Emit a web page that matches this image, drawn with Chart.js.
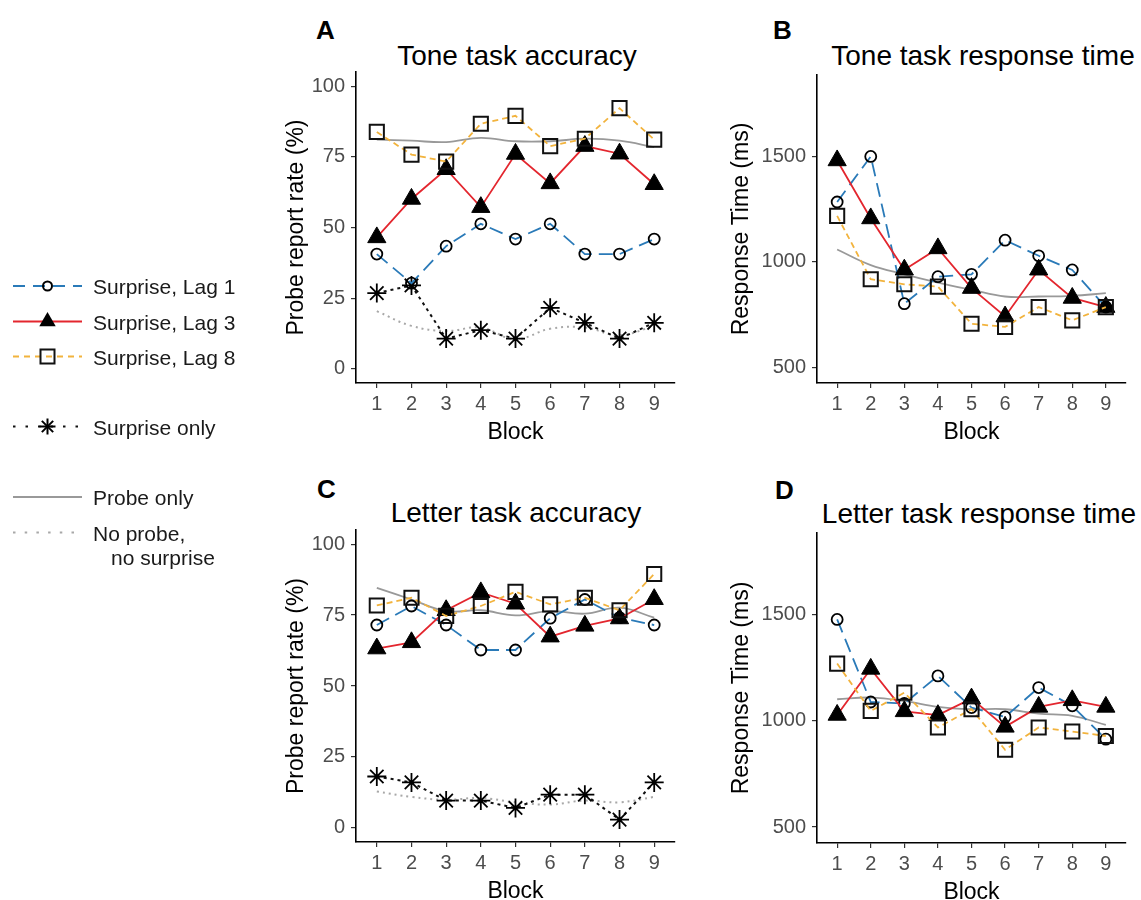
<!DOCTYPE html>
<html>
<head>
<meta charset="utf-8">
<script src="https://cdn.jsdelivr.net/npm/chart.js@4.4.1/dist/chart.umd.min.js"></script>
<style>
    html, body { margin: 0; padding: 0; background: #fff; overflow: hidden; }
    body { width: 1141px; height: 900px; position: relative; font-family: 'Liberation Sans', Arial, sans-serif; }
    canvas { position: absolute; }
    .txt { position: absolute; line-height: 1; white-space: nowrap; color: #000; }
    .letter { font-size: 26px; font-weight: bold; }
    .title { font-size: 28px; transform: translateX(-50%); }
    .leg { font-size: 21px; color: #1a1a1a; }
</style>
</head>
<body>

<div class="txt letter" style="left:316px;top:17px;">A</div>
<div class="txt letter" style="left:773px;top:17px;">B</div>
<div class="txt letter" style="left:317px;top:476px;">C</div>
<div class="txt letter" style="left:775px;top:477px;">D</div>

<div class="txt title" style="left:517px;top:42px;">Tone task accuracy</div>
<div class="txt title" style="left:983px;top:42px;">Tone task response time</div>
<div class="txt title" style="left:516px;top:499px;">Letter task accuracy</div>
<div class="txt title" style="left:979px;top:500px;">Letter task response time</div>

<canvas id="legendCanvas" width="100" height="320" style="left:0;top:260px;"></canvas>
<div class="txt leg" style="left:93px;top:276px;">Surprise, Lag 1</div>
<div class="txt leg" style="left:93px;top:312px;">Surprise, Lag 3</div>
<div class="txt leg" style="left:93px;top:347px;">Surprise, Lag 8</div>
<div class="txt leg" style="left:93px;top:417px;">Surprise only</div>
<div class="txt leg" style="left:93px;top:487px;">Probe only</div>
<div class="txt leg" style="left:93px;top:523px;">No probe,</div>
<div class="txt leg" style="left:111px;top:547px;">no surprise</div>

<canvas id="chartA"></canvas>
<canvas id="chartB"></canvas>
<canvas id="chartC"></canvas>
<canvas id="chartD"></canvas>

<script>
'use strict';

// ====== DATA ======
const blocks = [1, 2, 3, 4, 5, 6, 7, 8, 9];
const accTicks = [0, 25, 50, 75, 100];
const rtTicks = [500, 1000, 1500];

// A - tone task accuracy (%)
const toneAccLag1 = [40.6, 30.3, 43.4, 51.3, 45.9, 51.3, 40.6, 40.6, 45.9];
const toneAccLag3 = [46.5, 60.1, 70.6, 57.2, 76.0, 65.6, 78.8, 76.1, 65.3];
const toneAccLag8 = [83.8, 75.8, 73.3, 86.7, 89.5, 78.8, 81.4, 92.2, 81.1];
const toneAccSurprise = [26.8, 29.5, 10.7, 13.7, 10.7, 21.6, 16.3, 10.7, 16.3];
const toneAccProbe = [81.1, 80.7, 80.2, 81.7, 80.5, 80.5, 81.4, 80.7, 78.4];
const toneAccNone = [20.4, 15.2, 13.4, 14.6, 10.5, 14.2, 14.6, 11.9, 15.2];

// B - tone task response time (ms)
const toneRtLag1 = [1283, 1499, 801, 929, 940, 1102, 1028, 961, 785];
const toneRtLag3 = [1480, 1205, 962, 1063, 875, 740, 962, 828, 785];
const toneRtLag8 = [1217, 917, 893, 882, 706, 691, 785, 722, 785];
const toneRtProbe = [1058, 984, 940, 901, 867, 835, 835, 838, 851];

// C - letter task accuracy (%)
const letterAccLag1 = [71.5, 78.2, 71.5, 62.7, 62.7, 73.9, 80.5, 74.1, 71.5];
const letterAccLag3 = [63.2, 65.4, 76.7, 83.0, 79.0, 67.4, 71.2, 73.8, 80.6];
const letterAccLag8 = [78.4, 81.1, 74.7, 78.2, 83.2, 78.8, 81.1, 76.7, 89.5];
const letterAccSurprise = [18.1, 16.0, 9.6, 9.6, 7.0, 11.7, 11.7, 2.9, 16.0];
const letterAccProbe = [84.6, 80.5, 76.4, 76.7, 74.9, 76.4, 75.5, 77.6, 74.1];
const letterAccNone = [12.8, 10.9, 9.9, 10.5, 9.0, 8.2, 9.6, 9.0, 10.9];

// D - letter task response time (ms)
const letterRtLag1 = [1478, 1089, 1082, 1212, 1063, 1019, 1157, 1071, 914];
const letterRtLag3 = [1028, 1245, 1045, 1027, 1105, 972, 1066, 1097, 1066];
const letterRtLag8 = [1270, 1047, 1133, 969, 1055, 864, 969, 950, 929];
const letterRtProbe = [1102, 1110, 1094, 1066, 1055, 1055, 1034, 1024, 981];

// ====== STYLE ======
const FONT = "'Liberation Sans', Arial, sans-serif";
const BLUE = '#2a7ab8';
const RED = '#e3262e';
const ORANGE = '#f2b33d';
const GRAY = '#999999';
const LIGHTGRAY = '#a8a8a8';

function toXY(vals) {
    return blocks.map((b, i) => ({ x: b, y: vals[i] }));
}

function lag1Set(vals) {
    return {
        label: 'Surprise, Lag 1', data: toXY(vals),
        borderColor: BLUE, borderWidth: 1.8, borderDash: [14, 7],
        pointStyle: 'circle', pointRadius: 5.5, pointBorderColor: '#000',
        pointBorderWidth: 1.8, pointBackgroundColor: 'rgba(0,0,0,0)'
    };
}
function lag3Set(vals) {
    return {
        label: 'Surprise, Lag 3', data: toXY(vals),
        borderColor: RED, borderWidth: 1.8,
        pointStyle: 'triangle', pointRadius: 10.5, pointBorderColor: '#000',
        pointBorderWidth: 1, pointBackgroundColor: '#000'
    };
}
function lag8Set(vals) {
    return {
        label: 'Surprise, Lag 8', data: toXY(vals),
        borderColor: ORANGE, borderWidth: 1.8, borderDash: [6, 4],
        pointStyle: 'rect', pointRadius: 10, pointBorderColor: '#111',
        pointBorderWidth: 2, pointBackgroundColor: 'rgba(0,0,0,0)'
    };
}
function surpriseSet(vals) {
    return {
        label: 'Surprise only', data: toXY(vals),
        borderColor: '#111', borderWidth: 2, borderDash: [3, 4],
        pointStyle: 'star', pointRadius: 9.5, pointBorderColor: '#000',
        pointBorderWidth: 1.8
    };
}
function probeSet(vals) {
    return {
        label: 'Probe only', data: toXY(vals),
        borderColor: GRAY, borderWidth: 1.8, pointRadius: 0, tension: 0.4
    };
}
function noneSet(vals) {
    return {
        label: 'No probe, no surprise', data: toXY(vals),
        borderColor: LIGHTGRAY, borderWidth: 2, borderDash: [2, 4], pointRadius: 0, tension: 0.4
    };
}

// ====== PANEL ======
/**
 * Build one panel; box gives the wanted axis-line positions on the page
 */
function makePanel(id, box, datasets, yRange, yTicks, yTitle) {
    const cv = document.getElementById(id);
    const top = box.axisTop - 10;
    const w = box.axisRight + 15 - box.left;
    const h = box.axisBottom - top + 67;
    cv.width = w; cv.height = h;
    cv.style.left = box.left + 'px';
    cv.style.top = top + 'px';
    cv.style.width = w + 'px';
    cv.style.height = h + 'px';

    const tickGrid = { display: true, drawOnChartArea: false, drawTicks: true, tickLength: 5, color: '#333', lineWidth: 1.2 };
    const axisBorder = { display: true, color: '#000', width: 1.6 };

    return new Chart(cv.getContext('2d'), {
        type: 'line',
        data: { datasets },
        options: {
            responsive: false,
            animation: false,
            devicePixelRatio: 1,
            layout: { padding: { top: 10, right: 15, left: 0, bottom: 0 } },
            plugins: { legend: { display: false }, tooltip: { enabled: false } },
            scales: {
                x: {
                    type: 'linear', min: 0.4, max: 9.6,
                    afterBuildTicks: s => { s.ticks = blocks.map(v => ({ value: v })); },
                    afterFit: s => { s.height = 67; s.paddingLeft = 0; s.paddingRight = 0; },
                    grid: tickGrid, border: axisBorder,
                    ticks: { padding: 4, color: '#4d4d4d', font: { size: 20, family: FONT }, callback: v => v },
                    title: { display: true, text: 'Block', color: '#000', font: { size: 23, family: FONT, lineHeight: 1.2 }, padding: { top: 0, bottom: 4 } }
                },
                y: {
                    type: 'linear', min: yRange[0], max: yRange[1],
                    afterBuildTicks: s => { s.ticks = yTicks.map(v => ({ value: v })); },
                    afterFit: s => { s.width = box.axisLeft - box.left; s.paddingTop = 0; s.paddingBottom = 0; },
                    grid: tickGrid, border: axisBorder,
                    ticks: { padding: 6, color: '#4d4d4d', font: { size: 20, family: FONT }, callback: v => v },
                    title: { display: true, text: yTitle, color: '#000', font: { size: 23, family: FONT, lineHeight: 1.2 }, padding: { top: box.titlePad, bottom: 0 } }
                }
            }
        }
    });
}

makePanel('chartA', { left: 280, axisLeft: 356, axisRight: 675, axisTop: 70, axisBottom: 383, titlePad: 3 },
    [lag8Set(toneAccLag8), lag3Set(toneAccLag3), lag1Set(toneAccLag1), surpriseSet(toneAccSurprise), probeSet(toneAccProbe), noneSet(toneAccNone)],
    [-5, 105], accTicks, 'Probe report rate (%)');

makePanel('chartB', { left: 720, axisLeft: 817, axisRight: 1126, axisTop: 73, axisBottom: 383, titlePad: 8 },
    [lag8Set(toneRtLag8), lag3Set(toneRtLag3), lag1Set(toneRtLag1), probeSet(toneRtProbe)],
    [425, 1885], rtTicks, 'Response Time (ms)');

makePanel('chartC', { left: 280, axisLeft: 356, axisRight: 675, axisTop: 528, axisBottom: 842, titlePad: 3 },
    [lag8Set(letterAccLag8), lag3Set(letterAccLag3), lag1Set(letterAccLag1), surpriseSet(letterAccSurprise), probeSet(letterAccProbe), noneSet(letterAccNone)],
    [-5, 105], accTicks, 'Probe report rate (%)');

makePanel('chartD', { left: 720, axisLeft: 817, axisRight: 1126, axisTop: 531, axisBottom: 843, titlePad: 8 },
    [lag8Set(letterRtLag8), lag3Set(letterRtLag3), lag1Set(letterRtLag1), probeSet(letterRtProbe)],
    [425, 1885], rtTicks, 'Response Time (ms)');

// ====== LEGEND KEYS ======
function drawLegend() {
    const ctx = document.getElementById('legendCanvas').getContext('2d');
    const x0 = 13, x1 = 82, xm = 47.5;

    function line(y, color, width, dash) {
        ctx.save();
        ctx.strokeStyle = color; ctx.lineWidth = width; ctx.setLineDash(dash);
        ctx.beginPath(); ctx.moveTo(x0, y); ctx.lineTo(x1, y); ctx.stroke();
        ctx.restore();
    }

    // Lag 1
    line(26, BLUE, 2, [12, 8]);
    ctx.strokeStyle = '#000'; ctx.lineWidth = 2;
    ctx.beginPath(); ctx.arc(xm, 26, 4.5, 0, Math.PI * 2); ctx.stroke();

    // Lag 3
    line(61.5, RED, 2, []);
    ctx.fillStyle = '#000';
    const r = 9.5;
    ctx.beginPath();
    ctx.moveTo(xm, 61.5 - r);
    ctx.lineTo(xm + r * Math.sin(2 * Math.PI / 3), 61.5 + r / 2);
    ctx.lineTo(xm - r * Math.sin(2 * Math.PI / 3), 61.5 + r / 2);
    ctx.closePath(); ctx.fill();

    // Lag 8
    line(96.5, ORANGE, 2, [6, 5]);
    ctx.strokeStyle = '#111'; ctx.lineWidth = 2;
    ctx.strokeRect(xm - 7, 96.5 - 7, 14, 14);

    // Surprise only
    line(166.5, '#111', 2, [2.5, 10]);
    ctx.strokeStyle = '#000'; ctx.lineWidth = 2;
    for (let k = 0; k < 4; k++) {
        const a = k * Math.PI / 4;
        ctx.beginPath();
        ctx.moveTo(xm - 8 * Math.cos(a), 166.5 - 8 * Math.sin(a));
        ctx.lineTo(xm + 8 * Math.cos(a), 166.5 + 8 * Math.sin(a));
        ctx.stroke();
    }

    // Probe only
    line(237, GRAY, 2, []);

    // No probe, no surprise
    line(272.5, LIGHTGRAY, 2, [2.5, 9.2]);
}

drawLegend();
</script>
</body>
</html>
